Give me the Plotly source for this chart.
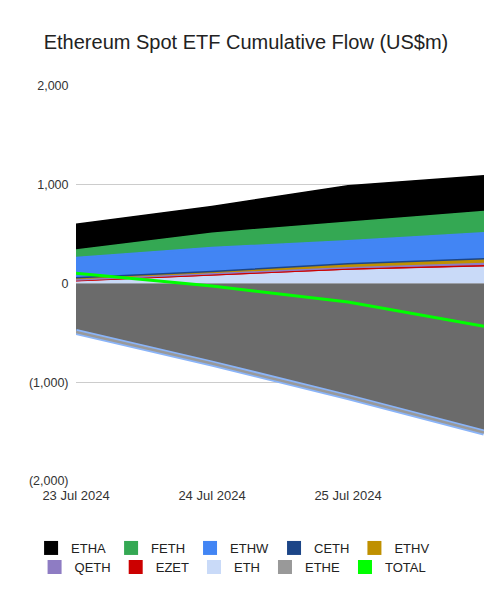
import plotly.graph_objects as go

# ---- data (cumulative flows, US$m) ----
dates = ["2024-07-23", "2024-07-24", "2024-07-25", "2024-07-26"]
tick_dates = ["2024-07-23", "2024-07-24", "2024-07-25"]
tick_text = ["23 Jul 2024", "24 Jul 2024", "25 Jul 2024"]

ETHA = [262, 270, 370, 360]
FETH = [75, 145, 187, 217]
ETHW = [205, 244, 232, 263]
CETH = [5, 5, 5, 5]
ETHV = [18, 21, 36, 42]
QETH = [6, 10, 14, 22]
EZET = [14, 15, 14, 15]
ETH = [15, 70, 132, 166]
ETHE = [-490, -811, -1150, -1510]
TOTAL = [105, -25, -188, -432]

y_ticks = [-2000, -1000, 0, 1000, 2000]
y_tick_text = ["(2,000)", "(1,000)", "0", "1,000", "2,000"]

colors = {
    "ETHA": "#000000", "FETH": "#34a853", "ETHW": "#4285f4", "CETH": "#1c4587",
    "ETHV": "#bf9000", "QETH": "#8e7cc3", "EZET": "#cc0000", "ETH": "#c9daf8",
    "ETHE": "#999999", "TOTAL": "#00ff00",
}
series = {"ETHA": ETHA, "FETH": FETH, "ETHW": ETHW, "CETH": CETH, "ETHV": ETHV,
          "QETH": QETH, "EZET": EZET, "ETH": ETH}
stack_order = ["ETH", "EZET", "QETH", "ETHV", "CETH", "ETHW", "FETH", "ETHA"]
row1 = ["ETHA", "FETH", "ETHW", "CETH", "ETHV"]
row2 = ["QETH", "EZET", "ETH", "ETHE", "TOTAL"]

fig = go.Figure()

# positive stack
for name in stack_order:
    fig.add_trace(go.Scatter(
        x=dates, y=series[name], name=name, mode="lines",
        stackgroup="pos", line=dict(color=colors[name], width=1.5),
        fillcolor=colors[name], showlegend=False, hoverinfo="skip"))

# negative (ETHE)
fig.add_trace(go.Scatter(
    x=dates, y=ETHE, mode="lines", fill="tozeroy", fillcolor="#6b6b6b",
    line=dict(width=0), showlegend=False, hoverinfo="skip"))
fig.add_trace(go.Scatter(
    x=dates, y=ETHE, mode="lines", line=dict(color="#8ab4f8", width=6),
    showlegend=False, hoverinfo="skip"))
fig.add_trace(go.Scatter(
    x=dates, y=ETHE, mode="lines", line=dict(color="#999999", width=2.5),
    showlegend=False, hoverinfo="skip"))

# total line
fig.add_trace(go.Scatter(
    x=dates, y=TOTAL, mode="lines", line=dict(color=colors["TOTAL"], width=3),
    showlegend=False, hoverinfo="skip"))

# legend entries (square swatches)
for lg, names in (("legend", row1), ("legend2", row2)):
    for name in names:
        fig.add_trace(go.Scatter(
            x=[None], y=[None], mode="markers", name=name, legend=lg,
            marker=dict(symbol="square", size=14, color=colors[name]),
            showlegend=True))

legend_common = dict(orientation="h", xanchor="center", yanchor="middle",
                     traceorder="normal", bgcolor="rgba(0,0,0,0)",
                     font=dict(size=13, color="#222"), itemclick=False)

fig.update_layout(
    width=500, height=613,
    margin=dict(l=76, r=16, t=86, b=132),
    paper_bgcolor="white", plot_bgcolor="white",
    font=dict(family="Liberation Sans, Arial, sans-serif", size=12, color="#333"),
    title=dict(text="Ethereum Spot ETF Cumulative Flow (US$m)",
               font=dict(size=20, color="#222"),
               xref="container", x=0.492, xanchor="center",
               yref="container", y=1 - 42 / 613, yanchor="middle"),
    xaxis=dict(type="date", range=[dates[0], dates[-1]],
               tickvals=tick_dates, ticktext=tick_text,
               showgrid=False, zeroline=False, showline=False,
               ticks="outside", ticklen=2, tickcolor="rgba(0,0,0,0)",
               tickfont=dict(size=13, color="#333")),
    yaxis=dict(range=[-2000, 2000], tickvals=y_ticks, ticktext=y_tick_text,
               showgrid=True, gridcolor="#cccccc", gridwidth=1,
               zeroline=False, showline=False,
               ticks="outside", ticklen=4, tickcolor="rgba(0,0,0,0)",
               tickfont=dict(size=12.5, color="#333")),
    legend=dict(x=0.385, y=(481 - 548) / 395, **legend_common),
    legend2=dict(x=0.385, y=(481 - 567) / 395, **legend_common),
)

fig.write_html("out.html")
